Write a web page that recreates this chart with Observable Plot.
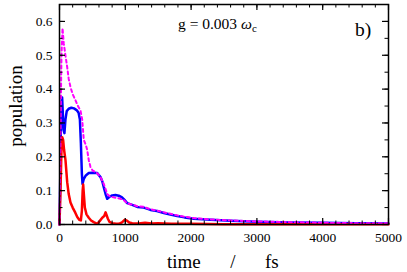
<!DOCTYPE html>
<html><head><meta charset="utf-8">
<script src="https://cdn.jsdelivr.net/npm/d3@7"></script>
<script src="https://cdn.jsdelivr.net/npm/@observablehq/plot@0.6"></script>
<style>body{margin:0;background:#fff} #chart{position:relative;width:407px;height:272px} #overlay{position:absolute;left:0;top:0}</style>
</head><body><div id="chart"></div><script>
// time in fs, population
const blueT = [0,10,20,30,40,50,60,75,90,110,140,180,220,260,290,310,325,340,350,370,400,445,500,573,623,650,673,700,725,760,801,850,901,950,977,1029,1105,1181,1281,1383,1480,1585,1700,1789,1900,2041,2300,2600,3000,3500,4000,4500,5000];
const blueP = [0,0.12,0.28,0.36,0.375,0.33,0.28,0.27,0.31,0.335,0.342,0.345,0.343,0.338,0.33,0.31,0.24,0.15,0.12,0.135,0.145,0.152,0.153,0.152,0.14,0.128,0.11,0.09,0.076,0.082,0.086,0.087,0.085,0.08,0.075,0.063,0.058,0.052,0.05,0.043,0.04,0.034,0.029,0.025,0.021,0.017,0.014,0.011,0.008,0.006,0.005,0.004,0.003];
const magT = [0,10,20,30,46,65,90,117,140,167,200,243,280,319,345,369,400,421,445,471,500,547,580,623,673,700,725,760,801,860,927,977,1029,1105,1181,1281,1383,1480,1585,1700,1789,1900,2041,2300,2600,3000,3500,4000,4500,5000];
const magP = [0,0.15,0.35,0.5,0.58,0.535,0.5,0.465,0.43,0.406,0.385,0.367,0.35,0.337,0.31,0.25,0.235,0.22,0.19,0.17,0.16,0.155,0.15,0.14,0.12,0.105,0.09,0.084,0.081,0.079,0.076,0.072,0.062,0.059,0.054,0.052,0.045,0.041,0.036,0.031,0.027,0.023,0.019,0.015,0.012,0.009,0.007,0.005,0.004,0.004];
const redT = [0,15,30,41,55,70,91,117,140,167,200,240,270,300,325,340,352,360,370,385,410,445,480,520,573,610,650,680,700,712,735,760,801,860,901,950,990,1020,1060,1105,1200,1300,1400,1500,1700,2000,2500,3000,4000,5000];
const redP = [0,0.1,0.22,0.258,0.25,0.22,0.19,0.125,0.09,0.065,0.05,0.035,0.022,0.014,0.012,0.04,0.1,0.118,0.09,0.05,0.03,0.02,0.012,0.007,0.002,0.01,0.02,0.025,0.036,0.03,0.017,0.008,0.004,0.002,0.002,0.006,0.014,0.012,0.006,0.004,0.003,0.005,0.003,0.004,0.002,0.002,0.001,0.001,0.001,0.001];
const xMajor = [0,1000,2000,3000,4000,5000];
const xMinor = d3.range(0,5001,200);
const yMajor = [0,0.1,0.2,0.3,0.4,0.5,0.6];
const yMinor = d3.range(0,0.651,0.05);
const xLabels = ["0","1000","2000","3000","4000","5000"];
const yLabels = ["0.0","0.1","0.2","0.3","0.4","0.5","0.6"];

const W=407,H=272,mL=59,mR=19,mT=4,mB=48;
const ih=H-mT-mB, iw=W-mL-mR;
const FONT="Liberation Serif";
const toRows=(T,P)=>T.map((t,i)=>({t,p:P[i]}));
const blue=toRows(blueT,blueP), mag=toRows(magT,magP), red=toRows(redT,redP);

const svg = Plot.plot({
  width:W,height:H,marginLeft:mL,marginRight:mR,marginTop:mT,marginBottom:mB,
  style:{background:"#fff", color:"#000", fontFamily:FONT},
  x:{domain:[0,5000]}, y:{domain:[0,0.65]},
  marks:[
    Plot.line(blue,{x:"t",y:"p",stroke:"#0000ff",strokeWidth:2.5}),
    Plot.line(red,{x:"t",y:"p",stroke:"#ff0000",strokeWidth:2.5}),
    Plot.line(mag,{x:"t",y:"p",stroke:"#ff00ff",strokeWidth:2,strokeDasharray:"3,3"}),
    Plot.ruleX(xMinor,{x:d=>d,insetTop:ih-3.5,stroke:"#000",strokeWidth:1}),
    Plot.ruleX(xMinor,{x:d=>d,insetBottom:ih-3.5,stroke:"#000",strokeWidth:1}),
    Plot.ruleX(xMajor,{x:d=>d,insetTop:ih-6,stroke:"#000",strokeWidth:1.2}),
    Plot.ruleX(xMajor,{x:d=>d,insetBottom:ih-6,stroke:"#000",strokeWidth:1.2}),
    Plot.ruleY(yMinor,{y:d=>d,insetRight:iw-3.5,stroke:"#000",strokeWidth:1}),
    Plot.ruleY(yMinor,{y:d=>d,insetLeft:iw-3.5,stroke:"#000",strokeWidth:1}),
    Plot.ruleY(yMajor,{y:d=>d,insetRight:iw-6,stroke:"#000",strokeWidth:1.2}),
    Plot.ruleY(yMajor,{y:d=>d,insetLeft:iw-6,stroke:"#000",strokeWidth:1.2}),
    Plot.frame({stroke:"#000",strokeWidth:1.5}),
    Plot.axisX(xMajor,{tickSize:0,tickPadding:8,tickFormat:(d,i)=>xLabels[i],label:null,fontSize:13.5,fontFamily:FONT}),
    Plot.axisY(yMajor,{tickSize:0,tickPadding:7,tickFormat:(d,i)=>yLabels[i],label:null,fontSize:13.5,fontFamily:FONT})
  ]
});
const chart=document.getElementById("chart");
chart.appendChild(svg);
// overlay for free text labels
const o=d3.select(chart).append("svg").attr("id","overlay").attr("width",W).attr("height",H);
const ann=o.append("text").attr("x",178).attr("y",28.5).attr("font-size",15.5).attr("font-family",FONT).attr("fill","#000");
ann.append("tspan").text("g = 0.003 ");
ann.append("tspan").attr("font-style","italic").text("ω");
ann.append("tspan").attr("font-size",11).attr("dy",3).text("c");
o.append("text").attr("x",355).attr("y",36).attr("font-size",19.5).attr("font-family",FONT).text("b)");
function addText(x,y,t,anchor,rot){const e=o.append("text").attr("x",x).attr("y",y).attr("text-anchor",anchor).attr("font-size",19).attr("font-family",FONT).text(t);if(rot)e.attr("transform",`rotate(-90,${x},${y})`);return e;}
addText(167,268,"time","start");
addText(233,268,"/","middle");
addText(265,268,"fs","start");
addText(22,106,"population","middle",true);
</script></body></html>
